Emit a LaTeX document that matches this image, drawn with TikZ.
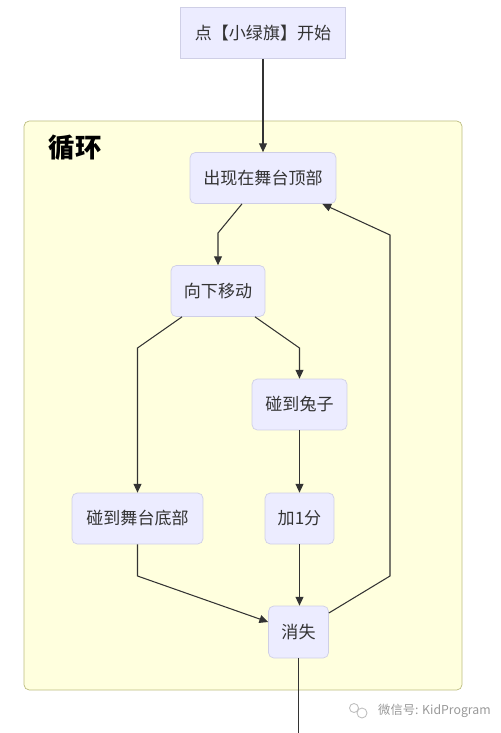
\documentclass[tikz,border=0pt]{standalone}
\usepackage{fontspec}
\setmainfont{Noto Sans CJK SC}
\definecolor{nodefill}{HTML}{ECECFF}
\definecolor{nodeline}{HTML}{CFCFE6}
\definecolor{loopfill}{HTML}{FFFFDE}
\definecolor{loopline}{HTML}{BDBD80}
\definecolor{edgeline}{HTML}{333333}
\usetikzlibrary{arrows.meta, positioning}

\begin{document}
\begin{tikzpicture}[x=0.02cm, y=-0.02cm,
    stepbox/.style={draw=nodeline, fill=nodefill, rounded corners=3pt, minimum height=1.02cm,
      inner sep=0pt, text=black!80, font=\fontsize{9.7}{12}\selectfont},
    arr/.style={draw=edgeline, line width=0.6pt, -{Triangle[length=5pt,width=4.5pt]}}]
    \useasboundingbox (0,0) rectangle (500,733);
    % loop
    \draw[draw=loopline, fill=loopfill, rounded corners=3pt] (24,121) rectangle (462,690);
    \node[font=\fontsize{15}{18}\selectfont\bfseries] (looptitle) at (75,148) {循环};
    % steps
    \node[stepbox, rounded corners=0pt, minimum width=3.3cm] (start) at (263,33) {点【小绿旗】开始};
    \node[stepbox, minimum width=2.92cm] (top) at (263,178) {出现在舞台顶部};
    \node[stepbox, minimum width=1.88cm] (down) at (218,291) {向下移动};
    \node[stepbox, minimum width=1.9cm] (rabbit) at (299.5,404.5) {碰到兔子};
    \node[stepbox, minimum width=2.62cm] (bottom) at (137.5,518.5) {碰到舞台底部};
    \node[stepbox, minimum width=1.38cm] (score) at (299.5,518.5) {加1分};
    \node[stepbox, minimum width=1.2cm, minimum height=1.04cm] (vanish) at (298.5,632) {消失};
    % edges
    \draw[arr] (start) -- (top);
    \draw[arr] ([xshift=-0.42cm]top.south) -- (218,233) -- (down.north);
    \draw[arr] ([xshift=-0.72cm]down.south) -- (137.5,348) -- (bottom.north);
    \draw[arr] ([xshift=0.74cm]down.south) -- (299.5,348) -- (rabbit.north);
    \draw[arr] (rabbit) -- (score);
    \draw[arr] (score.south) -- (score.south |- vanish.north);
    \draw[arr] (bottom.south) -- (137.5,576) -- ([yshift=0.2cm]vanish.west);
    \draw[arr] ([yshift=0.38cm]vanish.east) -- (390,576) -- (390,235) -- ([xshift=-0.28cm]top.south east);
    \draw[draw=edgeline, line width=0.6pt] (vanish.south) -- (vanish.south |- 0,733);
    % watermark
    \draw[black!25, line width=0.5pt] (354,708) circle (4.5) (362,713) circle (5);
    \node[text=black!40, font=\fontsize{7}{9}\selectfont, anchor=west] (mark) at (372,711) {微信号: KidProgram};
\end{tikzpicture}
\end{document}
